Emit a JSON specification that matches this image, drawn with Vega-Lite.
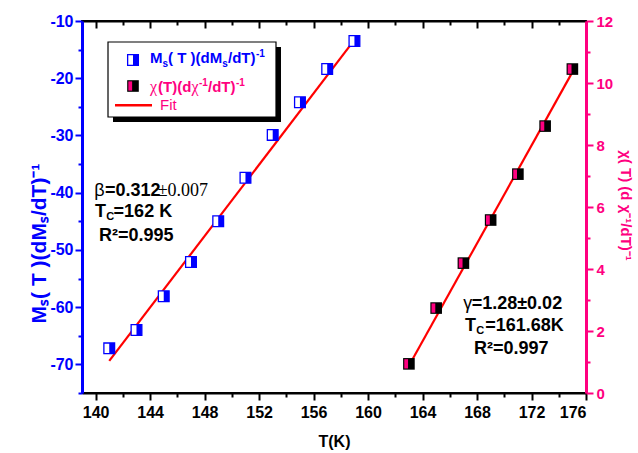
{
  "$schema": "https://vega.github.io/schema/vega-lite/v6.json",
  "width": 504,
  "height": 372,
  "autosize": {"type": "none"},
  "padding": {"left": 82, "top": 21, "right": 52, "bottom": 60},
  "background": "white",
  "config": {
    "font": "Liberation Sans",
    "view": {"stroke": "black", "strokeWidth": 2},
    "axis": {"grid": false, "labelFont": "Liberation Sans", "titleFont": "Liberation Sans", "labelFontWeight": "bold", "titleFontWeight": "bold"}
  },
  "datasets": {
    "ms": [
      {"T": 141, "v": -67.2}, {"T": 143, "v": -64.0}, {"T": 145, "v": -58.1}, {"T": 147, "v": -52.1},
      {"T": 149, "v": -45.0}, {"T": 151, "v": -37.4}, {"T": 153, "v": -29.9}, {"T": 155, "v": -24.2},
      {"T": 157, "v": -18.4}, {"T": 159, "v": -13.5}
    ],
    "msfit": [{"T": 141, "v": -69.4}, {"T": 159, "v": -13.3}],
    "chi": [
      {"T": 163, "v": 0.94}, {"T": 165, "v": 2.74}, {"T": 167, "v": 4.19}, {"T": 169, "v": 5.58},
      {"T": 171, "v": 7.06}, {"T": 173, "v": 8.61}, {"T": 175, "v": 10.45}
    ],
    "chifit": [{"T": 163, "v": 0.88}, {"T": 175, "v": 10.35}]
  },
  "resolve": {"scale": {"y": "independent"}, "axis": {"x": "independent"}},
  "layer": [
    {
      "encoding": {
        "x": {"field": "T", "type": "quantitative",
          "scale": {"domain": [139, 176], "nice": false, "zero": false},
          "axis": {"orient": "bottom", "title": "T(K)", "values": [140,142,144,146,148,150,152,154,156,158,160,162,164,166,168,170,172,174,176],
            "labelExpr": "datum.value % 4 === 0 ? datum.label : ''",
            "tickSize": {"condition": {"test": "datum.value % 4 === 0", "value": 7}, "value": 4},
            "domainColor": "black", "domainWidth": 2, "tickColor": "black", "tickWidth": 2,
            "labelColor": "black", "labelFontSize": 16, "labelPadding": 4,
            "titleColor": "black", "titleFontSize": 16, "titlePadding": 13}},
        "y": {"field": "v", "type": "quantitative",
          "scale": {"domain": [-75, -10], "nice": false, "zero": false},
          "axis": {"orient": "left", "title": "Mₛ( T )(dMₛ/dT)⁻¹",
            "values": [-75,-70,-65,-60,-55,-50,-45,-40,-35,-30,-25,-20,-15,-10],
            "labelExpr": "datum.value % 10 === 0 ? '' + datum.value : ''",
            "tickSize": {"condition": {"test": "datum.value % 10 === 0", "value": 7}, "value": 4},
            "domainColor": "#0000ff", "domainWidth": 3, "tickColor": "#0000ff", "tickWidth": 2,
            "labelColor": "#0000ff", "labelFontSize": 16, "labelPadding": 2,
            "titleColor": "#0000ff", "titleFontSize": 21, "titleAngle": -90,
            "titleX": -43, "titleY": 222, "titleAlign": "center", "titleBaseline": "middle"}}
      },
      "layer": [
        {"data": {"values": [{"T": 141.276, "T2": 153.609, "v": -14.543, "v2": -27.648}]},
         "mark": {"type": "rect", "fill": "black"},
         "encoding": {"x2": {"field": "T2"}, "y2": {"field": "v2"}}},
        {"data": {"values": [{"T": 140.909, "T2": 153.242, "v": -13.669, "v2": -26.774}]},
         "mark": {"type": "rect", "fill": "white", "stroke": "black", "strokeWidth": 1.2},
         "encoding": {"x2": {"field": "T2"}, "y2": {"field": "v2"}}},
        {"data": {"name": "msfit"}, "mark": {"type": "line", "color": "#ff0000", "strokeWidth": 2.2}, "encoding": {}},
        {"data": {"name": "ms"}, "mark": {"type": "point", "shape": "square", "filled": true, "fill": "white", "stroke": "#0000ff", "strokeWidth": 1.3, "size": 115, "opacity": 1}},
        {"data": {"name": "ms"}, "mark": {"type": "point", "shape": "M0,-1L1,-1L1,1L0,1Z", "filled": true, "fill": "#0000ff", "strokeWidth": 0, "size": 115, "opacity": 1}},
        {"data": {"values": [{"T": 142.744, "v": -16.815}]}, "mark": {"type": "point", "shape": "square", "filled": true, "fill": "white", "stroke": "#0000ff", "strokeWidth": 1.3, "size": 115, "opacity": 1}},
        {"data": {"values": [{"T": 142.744, "v": -16.815}]}, "mark": {"type": "point", "shape": "M0,-1L1,-1L1,1L0,1Z", "filled": true, "fill": "#0000ff", "strokeWidth": 0, "size": 115, "opacity": 1}},
        {"data": {"values": [{"T": 142.744, "v": -21.358}]}, "mark": {"type": "point", "shape": "square", "filled": true, "fill": "black", "strokeWidth": 0, "size": 135, "opacity": 1}},
        {"data": {"values": [{"T": 142.744, "v": -21.358}]}, "mark": {"type": "point", "shape": "M-0.8,-0.8L-0.15,-0.8L-0.15,0.8L-0.8,0.8Z", "filled": true, "fill": "#ff0080", "strokeWidth": 0, "size": 135, "opacity": 1}},
        {"data": {"values": [{"T": 141.423, "v": -24.73}, {"T": 144.139, "v": -24.73}]}, "mark": {"type": "line", "color": "#ff0000", "strokeWidth": 2.5}, "encoding": {}},
        {"data": {"values": [{"T": 143.992, "v": -17.391, "t": "M"}, {"T": 145.313, "v": -17.391, "t": "( T )(dM"}, {"T": 149.718, "v": -17.391, "t": "/dT)"}]},
         "mark": {"type": "text", "align": "left", "baseline": "alphabetic", "font": "Liberation Sans", "fontSize": 15, "fontWeight": "bold", "color": "#0000ff"},
         "encoding": {"text": {"field": "t"}}},
        {"data": {"values": [{"T": 144.91, "v": -18.09, "t": "s"}, {"T": 149.299, "v": -18.09, "t": "s"}, {"T": 151.773, "v": -16.343, "t": "-1"}]},
         "mark": {"type": "text", "align": "left", "baseline": "alphabetic", "font": "Liberation Sans", "fontSize": 10, "fontWeight": "bold", "color": "#0000ff"},
         "encoding": {"text": {"field": "t"}}},
        {"data": {"values": [{"T": 144.579, "v": -22.406, "t": "(T)(d"}, {"T": 148.25, "v": -22.406, "t": "/dT)"}]},
         "mark": {"type": "text", "align": "left", "baseline": "alphabetic", "font": "Liberation Sans", "fontSize": 15, "fontWeight": "bold", "color": "#ff0080"},
         "encoding": {"text": {"field": "t"}}},
        {"data": {"values": [{"T": 143.992, "v": -22.406, "t": "χ"}, {"T": 147.031, "v": -22.406, "t": "χ"}]},
         "mark": {"type": "text", "align": "left", "baseline": "alphabetic", "font": "Liberation Serif", "fontSize": 16, "fontWeight": "normal", "color": "#ff0080"},
         "encoding": {"text": {"field": "t"}}},
        {"data": {"values": [{"T": 147.589, "v": -21.358, "t": "-1"}, {"T": 150.305, "v": -21.358, "t": "-1"}]},
         "mark": {"type": "text", "align": "left", "baseline": "alphabetic", "font": "Liberation Sans", "fontSize": 10, "fontWeight": "bold", "color": "#ff0080"},
         "encoding": {"text": {"field": "t"}}},
        {"data": {"values": [{"T": 144.726, "v": -25.551, "t": "Fit"}]},
         "mark": {"type": "text", "align": "left", "baseline": "alphabetic", "font": "Liberation Sans", "fontSize": 15, "fontWeight": "normal", "color": "#ff0080"},
         "encoding": {"text": {"field": "t"}}},
        {"data": {"values": [{"T": 140.688, "v": -40.525, "t": "=0.312"}, {"T": 139.954, "v": -44.195, "t": "T"}, {"T": 141.32, "v": -44.195, "t": "=162 K"}, {"T": 140.248, "v": -48.389, "t": "R²=0.995"}]},
         "mark": {"type": "text", "align": "left", "baseline": "alphabetic", "font": "Liberation Sans", "fontSize": 18, "fontWeight": "bold", "color": "black"},
         "encoding": {"text": {"field": "t"}}},
        {"data": {"values": [{"T": 139.903, "v": -40.525, "t": "β"}]},
         "mark": {"type": "text", "align": "left", "baseline": "alphabetic", "font": "Liberation Sans", "fontSize": 18, "fontWeight": "normal", "color": "black"},
         "encoding": {"text": {"field": "t"}}},
        {"data": {"values": [{"T": 144.557, "v": -40.525, "t": "±0.007"}]},
         "mark": {"type": "text", "align": "left", "baseline": "alphabetic", "font": "Liberation Serif", "fontSize": 18, "fontWeight": "normal", "color": "black"},
         "encoding": {"text": {"field": "t"}}},
        {"data": {"values": [{"T": 140.78, "v": -44.75, "t": "C"}]},
         "mark": {"type": "text", "align": "left", "baseline": "alphabetic", "font": "Liberation Sans", "fontSize": 11, "fontWeight": "bold", "color": "black"},
         "encoding": {"text": {"field": "t"}}}
      ]
    },
    {
      "encoding": {
        "x": {"field": "T", "type": "quantitative",
          "scale": {"domain": [139, 176], "nice": false, "zero": false},
          "axis": {"orient": "top", "title": null, "labels": false,
            "values": [140,142,144,146,148,150,152,154,156,158,160,162,164,166,168,170,172,174,176],
            "tickSize": {"condition": {"test": "datum.value % 4 === 0", "value": -7}, "value": -4},
            "domainColor": "black", "domainWidth": 2, "tickColor": "black", "tickWidth": 2}},
        "y": {"field": "v", "type": "quantitative",
          "scale": {"domain": [0, 12], "nice": false, "zero": false},
          "axis": {"orient": "right", "title": "χ( T) (d χ⁻¹/dT)⁻¹",
            "values": [0,1,2,3,4,5,6,7,8,9,10,11,12],
            "labelExpr": "datum.value % 2 === 0 ? datum.label : ''",
            "tickSize": {"condition": {"test": "datum.value % 2 === 0", "value": 7}, "value": 4},
            "domainColor": "#ff0080", "domainWidth": 3, "tickColor": "#ff0080", "tickWidth": 2,
            "labelColor": "#ff0080", "labelFontSize": 15, "labelPadding": 3,
            "titleColor": "#ff0080", "titleFontSize": 15, "titleAngle": 90,
            "titleX": 39, "titleY": 184, "titleAlign": "center", "titleBaseline": "middle"}}
      },
      "layer": [
        {"data": {"name": "chifit"}, "mark": {"type": "line", "color": "#ff0000", "strokeWidth": 2.2}, "encoding": {}},
        {"data": {"name": "chi"}, "mark": {"type": "point", "shape": "square", "filled": true, "fill": "black", "strokeWidth": 0, "size": 135, "opacity": 1}},
        {"data": {"name": "chi"}, "mark": {"type": "point", "shape": "M-0.8,-0.8L-0.15,-0.8L-0.15,0.8L-0.8,0.8Z", "filled": true, "fill": "#ff0080", "strokeWidth": 0, "size": 135, "opacity": 1}},
        {"data": {"values": [{"T": 167.608, "v": 2.7, "t": "=1.28±0.02"}, {"T": 167.116, "v": 2.01, "t": "T"}, {"T": 168.6, "v": 2.01, "t": "=161.68K"}, {"T": 167.777, "v": 1.258, "t": "R²=0.997"}]},
         "mark": {"type": "text", "align": "left", "baseline": "alphabetic", "font": "Liberation Sans", "fontSize": 18, "fontWeight": "bold", "color": "black"},
         "encoding": {"text": {"field": "t"}}},
        {"data": {"values": [{"T": 166.992, "v": 2.7, "t": "γ"}]},
         "mark": {"type": "text", "align": "left", "baseline": "alphabetic", "font": "Liberation Sans", "fontSize": 18, "fontWeight": "normal", "color": "black"},
         "encoding": {"text": {"field": "t"}}},
        {"data": {"values": [{"T": 167.95, "v": 1.9, "t": "C"}]},
         "mark": {"type": "text", "align": "left", "baseline": "alphabetic", "font": "Liberation Sans", "fontSize": 11, "fontWeight": "bold", "color": "black"},
         "encoding": {"text": {"field": "t"}}}
      ]
    }
  ]
}
